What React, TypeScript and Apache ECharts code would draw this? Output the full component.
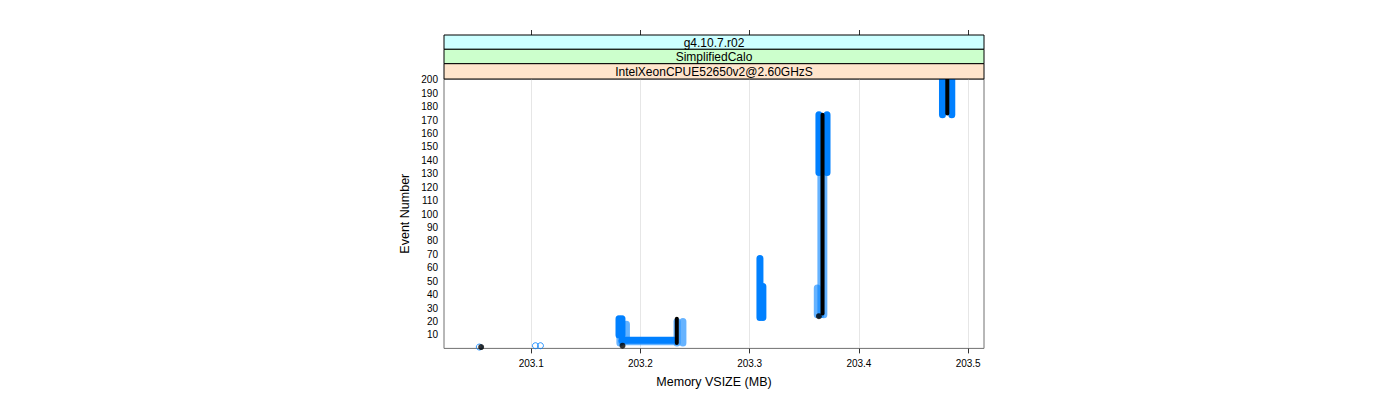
import React, { useEffect, useRef } from "react";
import * as echarts from "echarts";

// ---- data (memory VSIZE in MB, event numbers) ----
// runs: [memoryFrom, memoryTo, eventFrom, eventTo]
const blueDenseRuns: number[][] = [
  [203.1804, 203.1804, 10, 22],
  [203.1831, 203.1831, 10, 22],
  [203.1831, 203.2307, 6, 6],
  [203.3094, 203.3094, 23, 67],
  [203.3121, 203.3121, 23, 46],
  [203.3634, 203.3634, 131, 174],
  [203.3708, 203.3708, 131, 174],
  [203.4765, 203.4765, 174, 200],
  [203.485, 203.485, 174, 200],
];
const blueSparseRuns: number[][] = [
  [203.1812, 203.1812, 4, 10],
  [203.1872, 203.1872, 6, 18],
  [203.1831, 203.2307, 5, 5],
  [203.2335, 203.2335, 4, 20],
  [203.2389, 203.2389, 4, 20],
  [203.3619, 203.3619, 25, 45],
  [203.3652, 203.3652, 25, 131],
  [203.3679, 203.3679, 25, 131],
];
const bluePoints: number[][] = [
  [203.0525, 1],
  [203.1039, 2],
  [203.1085, 2],
];
const blackRuns: number[][] = [
  [203.2333, 203.2333, 4, 22],
  [203.3667, 203.3667, 26, 174],
  [203.4809, 203.4809, 175, 200],
];
const blackPoints: number[][] = [
  [203.0542, 1],
  [203.1836, 2],
  [203.3634, 24],
];
const xTicks = [203.1, 203.2, 203.3, 203.4, 203.5];
const yTicks = [10, 20, 30, 40, 50, 60, 70, 80, 90, 100, 110, 120, 130, 140, 150, 160, 170, 180, 190, 200];
const stripLabels = ["g4.10.7.r02", "SimplifiedCalo", "IntelXeonCPUE52650v2@2.60GHzS"];
const stripColors = ["#ccffff", "#ccffcc", "#ffe5cc"];
const xTitle = "Memory VSIZE (MB)";
const yTitle = "Event Number";

const FONT = "Liberation Sans";

function capsuleSeries(data: number[][], color: string, width: number, z: number) {
  return {
    type: "custom",
    data,
    z,
    silent: true,
    clip: true,
    encode: { x: [0, 1], y: [2, 3] },
    renderItem: (_params: any, api: any) => {
      const a = api.coord([api.value(0), api.value(2)]);
      const b = api.coord([api.value(1), api.value(3)]);
      const x = Math.min(a[0], b[0]) - width / 2;
      const y = Math.min(a[1], b[1]) - width / 2;
      return {
        type: "rect",
        shape: {
          x,
          y,
          width: Math.abs(a[0] - b[0]) + width,
          height: Math.abs(a[1] - b[1]) + width,
          r: width / 2,
        },
        style: { fill: color },
      };
    },
  };
}

export default function App() {
  const ref = useRef<HTMLDivElement>(null);
  useEffect(() => {
    if (!ref.current) return;
    const chart = echarts.init(ref.current, null, { renderer: "svg" });
    const gridLeft = 444;
    const gridRight = 984;
    const stripTops = [35, 49.3, 63.7, 79];
    const graphics: any[] = [];
    for (let i = 0; i < 3; i++) {
      graphics.push({
        type: "rect",
        z: 100,
        shape: { x: gridLeft, y: stripTops[i], width: gridRight - gridLeft, height: stripTops[i + 1] - stripTops[i] },
        style: { fill: stripColors[i], stroke: "#000", lineWidth: 1 },
      });
      graphics.push({
        type: "text",
        z: 101,
        x: (gridLeft + gridRight) / 2,
        y: (stripTops[i] + stripTops[i + 1]) / 2 + 0.5,
        style: {
          text: stripLabels[i],
          fill: "#000",
          font: `12px "${FONT}"`,
          textAlign: "center",
          textVerticalAlign: "middle",
        },
      });
    }
    chart.setOption({
      animation: false,
      backgroundColor: "#fff",
      textStyle: { fontFamily: FONT },
      grid: {
        left: gridLeft,
        top: 79,
        width: gridRight - gridLeft,
        height: 269.4,
        show: true,
        borderColor: "#707070",
        borderWidth: 1,
        backgroundColor: "transparent",
      },
      xAxis: [
        {
          type: "value",
          min: 203.0202,
          max: 203.5145,
          position: "bottom",
          name: xTitle,
          nameLocation: "middle",
          nameGap: 27,
          nameTextStyle: { fontSize: 12.5, color: "#000", fontFamily: FONT },
          axisLine: { show: false },
          axisTick: { show: true, inside: false, length: 5, customValues: xTicks, lineStyle: { color: "#333" } },
          axisLabel: {
            customValues: xTicks,
            fontSize: 10,
            color: "#000",
            margin: 10,
            fontFamily: FONT,
            formatter: (v: number) => v.toFixed(1),
          },
          splitLine: { show: true, lineStyle: { color: "#e6e6e6", width: 1 } },
        },
        {
          type: "value",
          min: 203.0202,
          max: 203.5145,
          position: "top",
          offset: 44,
          axisLine: { show: false },
          axisTick: { show: true, inside: false, length: 5, customValues: xTicks, lineStyle: { color: "#333" } },
          axisLabel: { show: false },
          splitLine: { show: false },
        },
      ],
      yAxis: {
        type: "value",
        min: 0,
        max: 200.6,
        name: yTitle,
        nameLocation: "middle",
        nameGap: 33,
        nameRotate: 90,
        nameTextStyle: { fontSize: 12.5, color: "#000", fontFamily: FONT },
        axisLine: { show: false },
        axisTick: { show: false },
        axisLabel: { customValues: yTicks, fontSize: 10, color: "#000", margin: 6, fontFamily: FONT },
        splitLine: { show: false },
      },
      series: [
        capsuleSeries(blueSparseRuns, "rgba(0,128,255,0.6)", 7, 2),
        capsuleSeries(blueDenseRuns, "#0080ff", 7, 3),
        {
          type: "scatter",
          data: bluePoints,
          z: 3,
          symbol: "circle",
          symbolSize: 6,
          itemStyle: { color: "rgba(255,255,255,0)", borderColor: "#0080ff", borderWidth: 1 },
          silent: true,
        },
        capsuleSeries(blackRuns, "#000", 4, 4),
        {
          type: "scatter",
          data: blackPoints,
          z: 5,
          symbol: "circle",
          symbolSize: 6,
          itemStyle: { color: "#000" },
          silent: true,
        },
      ],
      graphic: graphics,
    });
    return () => chart.dispose();
  }, []);
  return (
    <div
      ref={ref}
      style={{ position: "absolute", left: 0, top: 0, width: 1400, height: 400 }}
    />
  );
}
